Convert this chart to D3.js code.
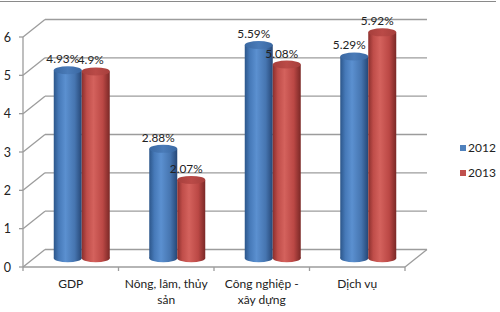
<!DOCTYPE html>
<html lang="vi">
<head>
<meta charset="utf-8">
<title>Tăng trưởng 2012 - 2013</title>
<script src="https://d3js.org/d3.v7.min.js"></script>
<style>
  body { margin: 0; background: #fff; }
  svg text { font-family: Lato, "Liberation Sans", sans-serif; fill: #222; }
</style>
</head>
<body>
<div id="chart"></div>
<script>
// data
var categories = ["GDP", "Nông, lâm, thủy sản", "Công nghiệp - xây dựng", "Dịch vụ"];
var categoryLines = [["GDP"], ["Nông, lâm, thủy", "sản"], ["Công nghiệp -", "xây dựng"], ["Dịch vụ"]];
var seriesNames = ["2012", "2013"];
var values2012 = [4.93, 2.88, 5.59, 5.29];
var values2013 = [4.9, 2.07, 5.08, 5.92];
var labels2012 = ["4.93%", "2.88%", "5.59%", "5.29%"];
var labels2013 = ["4.9%", "2.07%", "5.08%", "5.92%"];
var yTicks = [0, 1, 2, 3, 4, 5, 6];

var width = 500, height = 312;
var depthX = 22, depthY = -17.5;   // 3d depth offset of back wall
var gridColor = "#9c9c9c";

var svg = d3.select("#chart").append("svg")
  .attr("width", width)
  .attr("height", height);

// top separator line
svg.append("line")
  .attr("x1", 0).attr("x2", 496)
  .attr("y1", 1.5).attr("y2", 1.5)
  .attr("stroke", "#8a8a8a").attr("stroke-width", 1.2);

var x = d3.scaleBand().domain(categories).range([23, 405]);
var y = d3.scaleLinear().domain([0, 6]).range([267, 37]);
var xSub = d3.scaleBand().domain(seriesNames)
  .range([x.bandwidth() / 2 - 28, x.bandwidth() / 2 + 28]);

var x0 = x.range()[0], x1 = x.range()[1];

// ---- walls / gridlines ----
var grid = svg.append("g")
  .attr("stroke", gridColor)
  .attr("stroke-width", 1.3)
  .attr("fill", "none");

yTicks.forEach(function(t) {
  // back wall line
  grid.append("line")
    .attr("x1", x0 + depthX).attr("x2", x1 + depthX)
    .attr("y1", y(t) + depthY).attr("y2", y(t) + depthY);
  // side wall diagonal
  grid.append("line")
    .attr("x1", x0).attr("x2", x0 + depthX)
    .attr("y1", y(t)).attr("y2", y(t) + depthY);
  // tick
  grid.append("line")
    .attr("x1", x0 - 4).attr("x2", x0)
    .attr("y1", y(t)).attr("y2", y(t));
});

// front vertical axis
grid.append("line")
  .attr("x1", x0).attr("x2", x0)
  .attr("y1", y(6)).attr("y2", y(0));

// floor front edge and right edge
grid.append("line")
  .attr("x1", x0).attr("x2", x1)
  .attr("y1", y(0)).attr("y2", y(0));
grid.append("line")
  .attr("x1", x1).attr("x2", x1 + depthX)
  .attr("y1", y(0)).attr("y2", y(0) + depthY);

// category ticks
var catEdges = categories.map(function(c) { return x(c); }).concat([x1]);
catEdges.forEach(function(e) {
  grid.append("line")
    .attr("x1", e).attr("x2", e)
    .attr("y1", y(0)).attr("y2", y(0) + 4);
});

// y tick labels
svg.append("g").selectAll("text")
  .data(yTicks)
  .enter().append("text")
    .attr("x", 11)
    .attr("y", function(d) { return y(d) + 4.5; })
    .attr("text-anchor", "end")
    .style("font-size", "12.5px")
    .text(function(d) { return d; });

// x category labels
var xl = svg.append("g");
categories.forEach(function(c, i) {
  var t = xl.append("text")
    .attr("x", x(c) + x.bandwidth() / 2)
    .attr("y", 288)
    .attr("text-anchor", "middle")
    .style("font-size", "12px");
  categoryLines[i].forEach(function(line, j) {
    t.append("tspan")
      .attr("x", x(c) + x.bandwidth() / 2)
      .attr("dy", j === 0 ? 0 : 16)
      .text(line);
  });
});

// ---- cylinder gradients ----
var defs = svg.append("defs");
function addGradient(id, stops) {
  var g = defs.append("linearGradient")
    .attr("id", id)
    .attr("x1", "0%").attr("x2", "100%")
    .attr("y1", "0%").attr("y2", "0%");
  stops.forEach(function(s) {
    g.append("stop").attr("offset", s[0]).attr("stop-color", s[1]);
  });
}
addGradient("body2012", [["0%", "#2c568a"], ["18%", "#4679b8"], ["42%", "#5b90d0"], ["75%", "#4675b0"], ["100%", "#264776"]]);
addGradient("body2013", [["0%", "#8a2f2d"], ["18%", "#bf4d49"], ["42%", "#d4625d"], ["75%", "#bb4845"], ["100%", "#7a2826"]]);
addGradient("top2012", [["0%", "#3a68a2"], ["50%", "#4a7bb8"], ["100%", "#3a68a2"]]);
addGradient("top2013", [["0%", "#a63f3c"], ["50%", "#ba4a47"], ["100%", "#a63f3c"]]);

// ---- cylinders ----
var rx = 14, ry = 4;
var midX = depthX / 2, midY = depthY / 2;
var seriesData = [
  { name: "2012", values: values2012, labels: labels2012 },
  { name: "2013", values: values2013, labels: labels2013 }
];

var bars = svg.append("g");
categories.forEach(function(c, i) {
  seriesData.forEach(function(s) {
    var cx = x(c) + xSub(s.name) + xSub.bandwidth() / 2 + midX;
    var yBase = y(0) + midY;
    var yTop = y(s.values[i]) + midY + 1;
    var g = bars.append("g");
    g.append("ellipse")
      .attr("cx", cx).attr("cy", yBase)
      .attr("rx", rx).attr("ry", ry)
      .attr("fill", "url(#body" + s.name + ")");
    g.append("rect")
      .attr("x", cx - rx).attr("y", yTop)
      .attr("width", rx * 2).attr("height", yBase - yTop)
      .attr("fill", "url(#body" + s.name + ")");
    g.append("ellipse")
      .attr("cx", cx).attr("cy", yTop)
      .attr("rx", rx).attr("ry", ry)
      .attr("fill", "url(#top" + s.name + ")");
    g.append("text")
      .attr("x", cx - 5)
      .attr("y", yTop - 7)
      .attr("text-anchor", "middle")
      .style("font-size", "11.8px")
      .text(s.labels[i]);
  });
});

// ---- legend ----
var legendColors = { "2012": "#4f81bd", "2013": "#c0504d" };
var legend = svg.append("g");
seriesNames.forEach(function(n, i) {
  legend.append("rect")
    .attr("x", 460).attr("y", 145 + i * 25)
    .attr("width", 6).attr("height", 6)
    .attr("fill", legendColors[n]);
  legend.append("text")
    .attr("x", 468).attr("y", 152 + i * 25)
    .style("font-size", "12px")
    .text(n);
});
</script>
</body>
</html>
